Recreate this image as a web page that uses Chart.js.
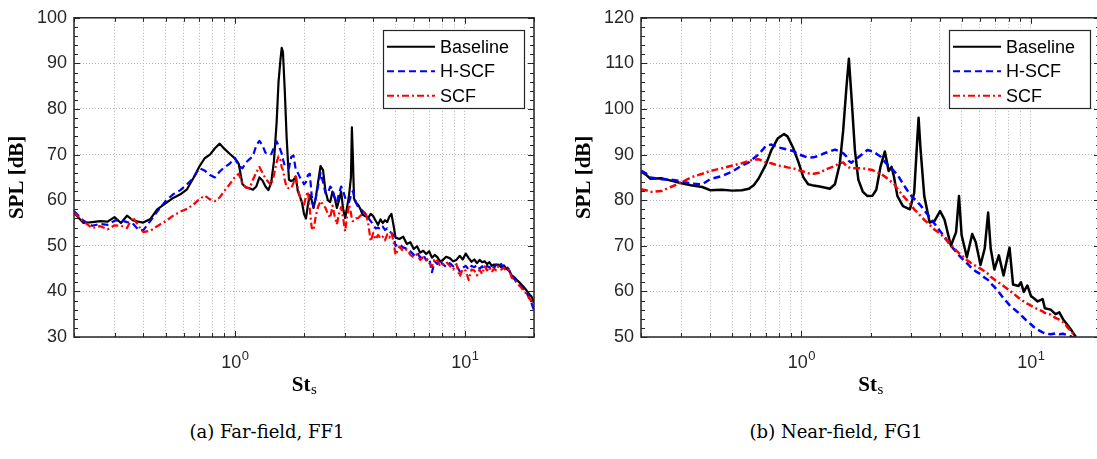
<!DOCTYPE html>
<html>
<head>
<meta charset="utf-8">
<script src="https://cdn.jsdelivr.net/npm/chart.js@4.4.1/dist/chart.umd.min.js"></script>
<style>
  html, body { margin: 0; padding: 0; background: #fff; overflow: hidden; width: 1097px; height: 459px; }
  canvas { position: absolute; top: 0; }
  #ff { left: 0; }
  #fg { left: 567px; }
  .caption {
    position: absolute; top: 423px; line-height: 1;
    font-family: "DejaVu Serif", serif; font-size: 18px; color: #000;
    white-space: nowrap; transform: translateX(-50%);
  }
</style>
</head>
<body>
<canvas id="ff" width="548" height="400"></canvas>
<canvas id="fg" width="547" height="400"></canvas>
<div class="caption" style="left:267px">(a) Far-field, FF1</div>
<div class="caption" style="left:836px">(b) Near-field, FG1</div>
<script>
// grid / tick positions on the log x axis
const xGridTicks = [0.2, 0.3, 0.4, 0.5, 0.6, 0.7, 0.8, 0.9, 1, 2, 3, 4, 5, 6, 7, 8, 9, 10, 20]
const xLabelTicks = [1, 10]
const seriesNames = ['Baseline', 'H-SCF', 'SCF']

// (a) far-field FF1 : Strouhal numbers and SPL [dB]
const ffSt = [
  0.2, 0.22, 0.24, 0.26, 0.28, 0.3, 0.32, 0.34, 0.36, 0.38,
  0.4, 0.43, 0.46, 0.5, 0.54, 0.58, 0.62, 0.66, 0.7, 0.74,
  0.78, 0.82, 0.86, 0.9, 0.95, 1.0, 1.04, 1.08, 1.12, 1.16,
  1.2, 1.24, 1.28, 1.32, 1.36, 1.4, 1.44, 1.48, 1.52, 1.55,
  1.58, 1.6, 1.62, 1.65, 1.68, 1.72, 1.76, 1.8, 1.84, 1.88,
  1.92, 1.96, 2.0, 2.04, 2.08, 2.12, 2.16, 2.2, 2.25, 2.3,
  2.36, 2.42, 2.48, 2.54, 2.6, 2.66, 2.72, 2.78, 2.84, 2.9,
  2.96, 3.02, 3.08, 3.14, 3.2, 3.23, 3.26, 3.3, 3.36, 3.44,
  3.52, 3.6, 3.7, 3.8, 3.9, 4.0, 4.1, 4.2, 4.3, 4.4,
  4.5, 4.6, 4.7, 4.8, 4.9, 5.0, 5.2, 5.4, 5.6, 5.8,
  6.0, 6.2, 6.4, 6.6, 6.8, 7.0, 7.2, 7.4, 7.6, 7.8,
  8.0, 8.3, 8.6, 8.9, 9.2, 9.5, 9.8, 10.1, 10.4, 10.7,
  11.0, 11.3, 11.6, 11.9, 12.2, 12.5, 12.8, 13.1, 13.4, 13.7,
  14.0, 14.4, 14.8, 15.2, 15.6, 16.0, 16.5, 17.0, 17.5, 18.0,
  18.5, 19.0, 19.5, 20.0
]
const ffBaseline = [
  57.2, 55.0, 55.2, 55.4, 55.3, 56.3, 55.0, 56.6, 55.6, 55.3,
  55.1, 55.9, 58.0, 59.3, 60.5, 61.3, 62.4, 64.8, 67.3, 69.2,
  70.0, 71.4, 72.4, 71.3, 70.2, 69.2, 68.0, 63.5, 62.8, 62.6,
  62.3, 63.0, 65.0, 64.3, 63.0, 62.2, 63.8, 68.5, 76.9, 86.0,
  90.8, 93.4, 92.5, 84.0, 74.0, 64.5, 64.2, 64.4, 65.2, 62.0,
  60.8, 59.5, 57.0, 56.0, 59.0, 61.1, 60.0, 58.3, 60.5, 63.8,
  67.5, 66.6, 62.0, 60.0, 59.6, 61.9, 60.5, 58.3, 60.0, 61.9,
  58.0, 56.1, 58.5, 61.1, 65.0, 76.0, 70.0, 60.4, 59.5, 59.0,
  58.0, 56.8, 56.5, 56.1, 57.0, 56.5, 55.5, 54.6, 55.8, 55.0,
  55.6, 55.2, 56.4, 57.0, 54.5, 51.8, 51.5, 52.0, 50.4, 50.8,
  49.3, 49.9, 48.5, 48.9, 48.2, 48.8, 47.4, 48.0, 47.5, 46.6,
  46.8, 47.6, 47.3, 46.6, 46.9, 47.8, 47.0, 48.3, 47.3, 46.5,
  47.0, 46.2, 46.9, 46.4, 46.6, 46.0, 46.4, 45.6, 45.9, 45.8,
  45.9, 45.3, 45.7, 44.9, 44.6, 43.5, 43.0, 42.3, 41.7, 41.0,
  40.3, 39.5, 38.9, 37.5
]
const ffHSCF = [
  57.6, 55.5, 54.4, 54.8, 54.6, 55.5, 55.6, 55.2, 54.9, 53.6,
  53.4, 55.5, 57.5, 59.8, 61.3, 62.2, 63.5, 64.8, 67.0, 66.5,
  65.5, 65.0, 66.3, 67.2, 68.0, 69.3, 67.5, 67.0, 68.3, 69.0,
  69.7, 72.0, 73.0, 72.0, 70.4, 70.1, 70.1, 71.5, 72.9, 72.0,
  71.0, 70.2, 69.0, 67.5, 67.2, 67.0, 69.5, 69.8, 66.8, 66.0,
  65.0, 64.5, 63.5, 64.0, 65.5, 65.8, 61.0, 58.5, 60.5, 63.0,
  66.0, 64.0, 61.5, 61.5, 63.0, 62.5, 60.5, 59.6, 61.5, 63.0,
  62.0, 60.5, 59.8, 59.6, 61.0, 61.5, 62.0, 61.0, 59.5, 58.5,
  58.2, 57.6, 57.0, 56.2, 55.4, 54.6, 53.8, 54.0, 53.6, 54.2,
  53.5, 53.8, 53.2, 52.8, 52.3, 50.0, 50.4, 49.6, 49.4, 48.8,
  48.0, 48.6, 47.4, 48.0, 46.8, 47.3, 44.2, 46.6, 46.0, 46.8,
  46.0, 45.4, 46.2, 45.5, 45.8, 44.4, 45.2, 45.6, 44.8, 45.6,
  45.3, 45.8, 45.0, 45.5, 44.8, 45.6, 45.2, 45.8, 45.1, 45.9,
  45.4, 46.0, 45.2, 45.6, 44.6, 43.2, 42.6, 41.8, 41.2, 40.5,
  39.8, 38.8, 37.5, 35.8
]
const ffSCF = [
  57.3, 55.3, 53.9, 54.3, 53.6, 54.5, 54.4, 53.9, 56.3, 54.5,
  53.0, 53.3, 54.3, 55.4, 56.6, 57.5, 58.1, 59.0, 60.2, 61.0,
  60.2, 59.8, 60.6, 62.0, 63.5, 65.0, 65.8, 63.6, 62.8, 62.6,
  64.5, 66.1, 67.3, 66.0, 64.8, 64.0, 63.3, 65.5, 68.3, 69.6,
  68.8, 67.2, 66.6, 64.5, 62.8, 62.6, 62.6, 63.8, 65.6, 62.5,
  60.8, 59.5, 59.0, 60.8, 61.9, 58.0, 54.0, 53.4, 56.5, 58.5,
  59.8, 59.0, 58.3, 57.0, 56.1, 58.8, 56.5, 54.7, 57.0, 58.5,
  56.0, 53.2, 56.5, 59.0, 57.2, 55.8, 55.4, 55.5, 56.0, 56.1,
  56.6, 57.0, 57.6, 55.0, 51.0, 52.8, 51.4, 52.4, 51.6, 52.0,
  51.2, 52.5, 51.8, 52.8, 51.0, 48.0, 49.8, 48.8, 49.2, 48.0,
  47.5, 48.1, 46.9, 47.5, 47.0, 46.2, 45.5, 47.2, 46.8, 45.6,
  45.8, 46.5, 45.6, 44.8, 46.0, 43.2, 44.9, 44.5, 42.5, 44.8,
  44.6, 43.5, 44.8, 43.8, 45.5, 44.6, 45.3, 44.2, 45.0, 44.6,
  45.5, 44.8, 45.2, 44.4, 44.8, 43.0, 42.5, 41.6, 41.0, 40.2,
  39.5, 38.6, 37.8, 36.8
]

// (b) near-field FG1
const fgSt = [
  0.2, 0.21, 0.22, 0.245, 0.27, 0.3, 0.33, 0.37, 0.4, 0.45,
  0.5, 0.55, 0.59, 0.62, 0.65, 0.7, 0.74, 0.79, 0.84, 0.87,
  0.92, 0.97, 1.02, 1.07, 1.13, 1.2, 1.26, 1.33, 1.4, 1.47,
  1.52, 1.57, 1.61, 1.65, 1.71, 1.77, 1.85, 1.94, 2.04, 2.12,
  2.21, 2.31, 2.4, 2.47, 2.53, 2.62, 2.77, 2.97, 3.1, 3.19,
  3.24, 3.3, 3.43, 3.62, 3.81, 4.02, 4.2, 4.48, 4.72, 4.86,
  4.99, 5.26, 5.55, 5.75, 6.03, 6.29, 6.51, 6.68, 6.93, 7.25,
  7.6, 8.07, 8.36, 8.83, 9.05, 9.31, 9.65, 10.0, 10.3, 10.7,
  11.25, 11.5, 12.2, 12.8, 13.3, 13.8, 14.5, 15.1, 15.7
]
const fgBaseline = [
  86.3, 85.6, 84.7, 84.8, 84.3, 83.7, 83.3, 82.9, 82.2, 82.3,
  82.1, 82.2, 82.5, 83.3, 84.7, 87.8, 91.0, 93.6, 94.5, 94.0,
  91.5, 88.4, 85.0, 83.5, 83.2, 83.0, 82.8, 82.5, 83.5, 88.0,
  95.2, 104.6, 111.0, 103.2, 91.0, 84.5, 81.9, 80.9, 81.0, 82.3,
  87.3, 90.7, 86.4, 87.3, 85.2, 80.9, 78.7, 78.0, 81.6, 92.4,
  98.1, 91.6, 80.9, 75.1, 75.5, 77.6, 75.8, 70.0, 73.0, 80.9,
  72.3, 67.5, 72.6, 70.8, 65.8, 69.4, 77.3, 69.4, 64.8, 67.9,
  63.5, 69.6, 61.5, 61.2, 62.0, 59.9, 61.3, 59.0, 58.5, 57.8,
  58.3, 56.3, 56.0, 55.0, 55.4, 53.9, 52.5, 51.3, 50.0
]
const fgHSCF = [
  86.5, 85.9, 85.0, 84.6, 84.5, 84.2, 83.6, 83.5, 84.6, 85.3,
  86.3, 87.6, 88.3, 89.2, 90.0, 91.9, 92.2, 91.6, 91.3, 91.1,
  90.8, 90.1, 89.7, 89.3, 89.4, 89.8, 90.3, 90.7, 91.1, 90.7,
  90.3, 89.6, 88.6, 88.2, 88.9, 89.4, 90.2, 91.0, 90.7, 90.2,
  89.6, 88.4, 87.5, 87.0, 86.4, 85.6, 83.6, 81.3, 80.3, 79.8,
  79.3, 78.9, 77.8, 76.3, 74.8, 73.2, 72.0, 70.0, 68.7, 67.9,
  67.3, 66.2, 65.0, 64.4, 63.8, 63.0, 62.5, 61.8, 61.0, 59.8,
  58.5, 57.0, 56.3, 55.3, 54.8, 54.2, 53.4, 52.8, 52.2, 51.6,
  51.0, 50.8, 50.6, 50.8, 50.6, 50.7, 50.4, 50.0, 49.8
]
const fgSCF = [
  82.4, 82.2, 81.8, 82.0, 82.9, 83.9, 85.0, 85.8, 86.4, 87.0,
  87.6, 88.1, 88.6, 88.9, 89.0, 88.3, 88.1, 87.6, 87.4, 87.2,
  87.0, 86.6, 86.3, 85.9, 85.8, 86.0, 86.6, 87.1, 87.5, 88.1,
  88.3, 87.5, 87.2, 87.0, 87.0, 87.0, 87.0, 86.8, 86.6, 86.2,
  85.8, 85.2, 84.5, 84.0, 83.7, 82.5, 81.0, 79.3, 78.0, 77.4,
  77.0, 76.6, 75.7, 74.6, 73.5, 72.7, 71.8, 70.2, 69.0, 68.4,
  67.9, 66.9, 66.0, 65.6, 65.0, 64.4, 63.8, 63.2, 62.6, 61.9,
  61.2, 60.2, 59.6, 58.6, 58.2, 57.8, 57.3, 56.9, 56.5, 56.1,
  55.6, 55.3, 54.9, 54.2, 53.8, 53.3, 52.0, 51.0, 50.0
]

const AXIS = '#262626'
const SANS = '"Liberation Sans", Arial, Helvetica, sans-serif'
const SERIF = '"Liberation Serif", "Times New Roman", serif'
const styles = [
  { color: '#000000', dash: [] },
  { color: '#0000ff', dash: [7, 4] },
  { color: '#ff0000', dash: [7, 3, 2, 3] }
]

// MATLAB look: box, inward ticks, 10^n labels, axis titles, legend
const matlabAxes = {
  id: 'matlabAxes',
  afterDraw(chart) {
    const { ctx, chartArea: a, scales: { x, y } } = chart
    ctx.save()

    // inward ticks on all four sides
    ctx.strokeStyle = AXIS
    ctx.lineWidth = 1
    ctx.setLineDash([])
    ctx.beginPath()
    xGridTicks.forEach(v => {
      const px = Math.round(x.getPixelForValue(v)) + 0.5
      const len = xLabelTicks.includes(v) ? 6 : 4
      ctx.moveTo(px, a.bottom); ctx.lineTo(px, a.bottom - len)
      ctx.moveTo(px, a.top); ctx.lineTo(px, a.top + len)
    })
    for (let v = y.min; v <= y.max; v += 2) {
      const py = Math.round(y.getPixelForValue(v)) + 0.5
      const len = v % 10 === 0 ? 6 : 4
      ctx.moveTo(a.left, py); ctx.lineTo(a.left + len, py)
      ctx.moveTo(a.right, py); ctx.lineTo(a.right - len, py)
    }
    ctx.stroke()

    // box
    ctx.lineWidth = 1.5
    ctx.strokeRect(a.left, a.top, a.right - a.left, a.bottom - a.top)

    // x tick labels 10^0, 10^1
    ctx.fillStyle = AXIS
    ctx.textBaseline = 'alphabetic'
    xLabelTicks.forEach(v => {
      const px = x.getPixelForValue(v)
      const exp = String(Math.round(Math.log10(v)))
      ctx.font = '18px ' + SANS
      const wb = ctx.measureText('10').width
      ctx.font = '13px ' + SANS
      const we = ctx.measureText(exp).width
      const x0 = px - (wb + we) / 2
      ctx.font = '18px ' + SANS
      ctx.fillText('10', x0, a.bottom + 31)
      ctx.font = '13px ' + SANS
      ctx.fillText(exp, x0 + wb + 0.5, a.bottom + 23)
    })

    // x title St_s
    ctx.fillStyle = '#000'
    ctx.font = 'bold 21px ' + SERIF
    const wSt = ctx.measureText('St').width
    ctx.font = '15px ' + SERIF
    const wS = ctx.measureText('s').width
    const tx = (a.left + a.right) / 2 - (wSt + wS) / 2
    ctx.font = 'bold 21px ' + SERIF
    ctx.fillText('St', tx, a.bottom + 54)
    ctx.font = '15px ' + SERIF
    ctx.fillText('s', tx + wSt + 0.5, a.bottom + 57)

    // y title
    ctx.save()
    ctx.translate(a.left - 56, (a.top + a.bottom) / 2)
    ctx.rotate(-Math.PI / 2)
    ctx.font = 'bold 21px ' + SERIF
    ctx.textAlign = 'center'
    ctx.textBaseline = 'middle'
    ctx.fillText('SPL [dB]', 0, 0)
    ctx.restore()

    // legend
    const lw = 141, lh = 78
    const lx = a.right - 10 - lw, ly = a.top + 12
    ctx.fillStyle = '#fff'
    ctx.fillRect(lx, ly, lw, lh)
    ctx.lineWidth = 1.2
    ctx.strokeStyle = AXIS
    ctx.strokeRect(Math.round(lx) + 0.5, Math.round(ly) + 0.5, lw, lh)
    ctx.font = '18px ' + SANS
    ctx.textBaseline = 'middle'
    seriesNames.forEach((name, i) => {
      const ry = ly + 17 + i * 24.5
      ctx.strokeStyle = styles[i].color
      ctx.lineWidth = 2
      ctx.setLineDash(styles[i].dash)
      ctx.beginPath()
      ctx.moveTo(lx + 4, ry); ctx.lineTo(lx + 52, ry)
      ctx.stroke()
      ctx.setLineDash([])
      ctx.fillStyle = '#000'
      ctx.fillText(name, lx + 57, ry + 1)
    })
    ctx.restore()
  }
}

function makePanel(id, st, series, yMin, yMax, width) {
  const datasets = series.map((vals, i) => ({
    label: seriesNames[i],
    data: st.map((v, k) => ({ x: v, y: vals[k] })),
    borderColor: styles[i].color,
    borderDash: styles[i].dash,
    borderWidth: width,
    order: 2 - i
  }))
  const grid = { color: '#b4b4b4', lineWidth: 1, drawTicks: false }
  return new Chart(document.getElementById(id), {
    type: 'line',
    data: { datasets },
    options: {
      responsive: false,
      animation: false,
      devicePixelRatio: 1,
      layout: { padding: { top: 13, right: 14, left: 0, bottom: 0 } },
      elements: { point: { radius: 0 }, line: { tension: 0, borderJoinStyle: 'round' } },
      plugins: { legend: { display: false }, tooltip: { enabled: false } },
      scales: {
        x: {
          type: 'logarithmic', min: 0.2, max: 20,
          afterBuildTicks: sc => { sc.ticks = xGridTicks.map(v => ({ value: v })) },
          afterFit: sc => { sc.height = 63 },
          ticks: { display: false },
          grid,
          border: { display: false, dash: [1, 2] }
        },
        y: {
          min: yMin, max: yMax,
          afterFit: sc => { sc.width = 74 },
          ticks: { stepSize: 10, padding: 7, color: AXIS, font: { family: SANS, size: 18 } },
          grid,
          border: { display: false, dash: [1, 2] }
        }
      }
    },
    plugins: [matlabAxes]
  })
}

makePanel('ff', ffSt, [ffBaseline, ffHSCF, ffSCF], 30, 100, 2.2)
makePanel('fg', fgSt, [fgBaseline, fgHSCF, fgSCF], 50, 120, 2.5)
</script>
</body>
</html>
